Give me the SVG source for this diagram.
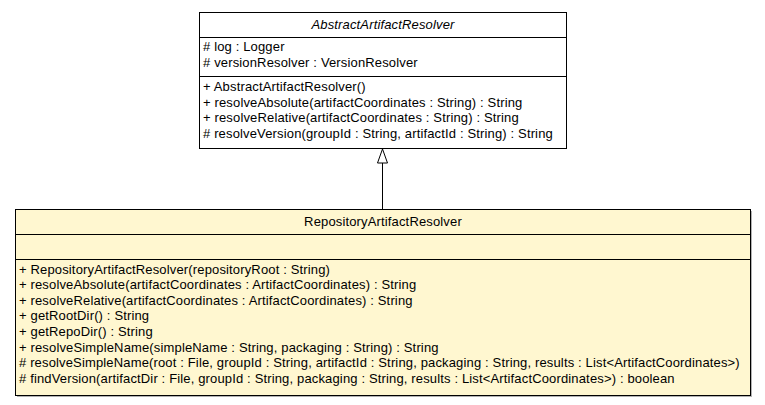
<svg xmlns="http://www.w3.org/2000/svg" width="765" height="405" viewBox="0 0 765 405">
  <style>
    text { font-family: "Liberation Sans", Arial, sans-serif; font-size: 13px; letter-spacing: 0.15px; fill: #000; }
    .title { text-anchor: middle; }
    .abstract { font-style: italic; }
    .box { stroke: #000; stroke-width: 1; }
    .sep { stroke: #000; stroke-width: 1; }
    .shadow { fill: #000; opacity: 0.3; }
    .edge { stroke: #000; stroke-width: 1; fill: none; }
    .head { stroke: #000; stroke-width: 1; fill: #fff; }
  </style>

  <!-- abstract superclass -->
  <g id="AbstractArtifactResolver">
    <rect x="199.5" y="12.5" width="367" height="136" fill="#fff" class="box"/>
    <line x1="199.5" y1="37.5" x2="566.5" y2="37.5" class="sep"/>
    <line x1="199.5" y1="76.5" x2="566.5" y2="76.5" class="sep"/>
    <text x="383" y="29" class="title abstract">AbstractArtifactResolver</text>
    <text x="203" y="51"># log : Logger</text>
    <text x="203" y="67"># versionResolver : VersionResolver</text>
    <text x="203" y="91">+ AbstractArtifactResolver()</text>
    <text x="203" y="107">+ resolveAbsolute(artifactCoordinates : String) : String</text>
    <text x="203" y="122">+ resolveRelative(artifactCoordinates : String) : String</text>
    <text x="203" y="138"># resolveVersion(groupId : String, artifactId : String) : String</text>
  </g>

  <!-- concrete subclass -->
  <g id="RepositoryArtifactResolver">
    <rect x="17" y="211" width="735" height="186" class="shadow"/>
    <rect x="15.5" y="209.5" width="735" height="186" fill="#fff7d0" class="box"/>
    <line x1="15.5" y1="234.5" x2="750.5" y2="234.5" class="sep"/>
    <line x1="15.5" y1="259.5" x2="750.5" y2="259.5" class="sep"/>
    <text x="383" y="226" class="title">RepositoryArtifactResolver</text>
    <text x="19" y="274">+ RepositoryArtifactResolver(repositoryRoot : String)</text>
    <text x="19" y="289">+ resolveAbsolute(artifactCoordinates : ArtifactCoordinates) : String</text>
    <text x="19" y="305">+ resolveRelative(artifactCoordinates : ArtifactCoordinates) : String</text>
    <text x="19" y="320">+ getRootDir() : String</text>
    <text x="19" y="336">+ getRepoDir() : String</text>
    <text x="19" y="352">+ resolveSimpleName(simpleName : String, packaging : String) : String</text>
    <text x="19" y="367"># resolveSimpleName(root : File, groupId : String, artifactId : String, packaging : String, results : List&lt;ArtifactCoordinates&gt;)</text>
    <text x="19" y="383"># findVersion(artifactDir : File, groupId : String, packaging : String, results : List&lt;ArtifactCoordinates&gt;) : boolean</text>
  </g>

  <!-- generalization: subclass to superclass -->
  <g id="connectors">
    <line x1="382.5" y1="209" x2="382.5" y2="163" class="edge"/>
    <polygon points="382.5,149 377.5,163 387.5,163" class="head"/>
  </g>
</svg>
